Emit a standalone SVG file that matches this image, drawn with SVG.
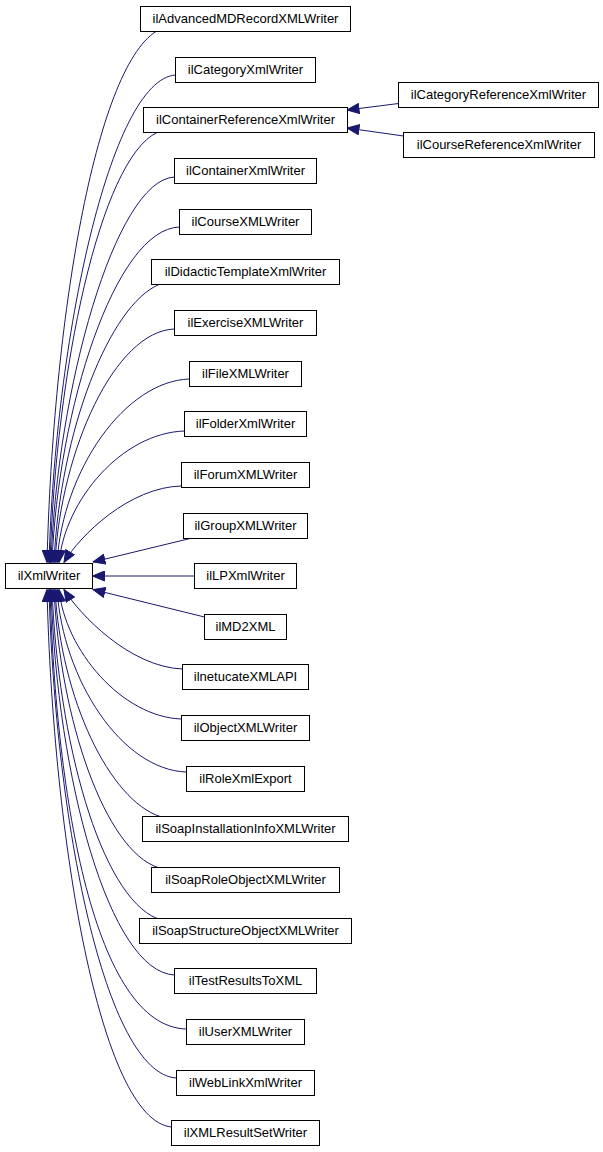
<svg xmlns="http://www.w3.org/2000/svg" width="603" height="1152" viewBox="0 0 603 1152">
<style>
.n rect{fill:#fff;stroke:#000;stroke-width:1}
.n text{font-family:"Liberation Sans",Arial,sans-serif;font-size:13px;fill:#000;text-anchor:middle}
.e path{fill:none;stroke:#191970;stroke-width:1;marker-start:url(#ah)}
</style>
<defs>
<marker id="ah" markerUnits="userSpaceOnUse" markerWidth="13" markerHeight="11" refX="12" refY="5" orient="auto-start-reverse" viewBox="-0.5 -0.5 13 11">
<path d="M0,0 L12,5 L0,10 z" fill="#191970" stroke="#191970" stroke-width="1"/>
</marker>
</defs>
<rect width="603" height="1152" fill="#fff"/>
<g id="edges" class="e">
<path d="M47,562.5 C53,320 95,70 156,31.5"/>
<path d="M49,562.5 C55,340 110,80 175.5,75"/>
<path d="M50,562.5 C56,370 100,160 157,132.5"/>
<path d="M51,562.5 C57,390 115,180 174.5,177"/>
<path d="M52,562.5 C58,410 115,229 179.5,227"/>
<path d="M54,562.5 C60,430 110,305 159,284.5"/>
<path d="M55,562.5 C61,450 115,331 174.5,329"/>
<path d="M57,562.5 C63,470 125,381 189.5,379"/>
<path d="M59,562.5 C65,500 122,433 184.5,431"/>
<path d="M64,562.5 C80,535 130,487 181.5,486"/>
<path d="M93,562 L190,538.5"/>
<path d="M92.5,576 L194.5,576"/>
<path d="M93,589.5 L204.5,617"/>
<path d="M64,589.5 C80,615 130,667 182.5,669"/>
<path d="M59,589.5 C65,650 122,717 181.5,719"/>
<path d="M57,589.5 C63,680 122,770 186.5,772"/>
<path d="M55,589.5 C61,700 110,800 160,816.5"/>
<path d="M54,589.5 C60,720 105,850 158,867.5"/>
<path d="M52,589.5 C58,740 100,895 157,918.5"/>
<path d="M51,589.5 C57,780 110,972 174.5,975"/>
<path d="M50,589.5 C56,800 95,1027 186.5,1029"/>
<path d="M49,589.5 C55,820 105,1074 176.5,1078"/>
<path d="M47,589.5 C53,840 100,1120 171.5,1127"/>
<path d="M347,110 L398.5,103.5"/>
<path d="M347,128 L403.5,136"/>
</g>
<g id="ilXmlWriter" class="n"><rect x="5.5" y="563.5" width="87" height="25"/><text x="49" y="580">ilXmlWriter</text></g>
<g id="ilAdvancedMDRecordXMLWriter" class="n"><rect x="140.5" y="6.5" width="210" height="25"/><text x="245.5" y="23">ilAdvancedMDRecordXMLWriter</text></g>
<g id="ilCategoryXmlWriter" class="n"><rect x="175.5" y="57.5" width="140" height="25"/><text x="245.5" y="74">ilCategoryXmlWriter</text></g>
<g id="ilContainerReferenceXmlWriter" class="n"><rect x="143.5" y="107.5" width="204" height="25"/><text x="245.5" y="124">ilContainerReferenceXmlWriter</text></g>
<g id="ilContainerXmlWriter" class="n"><rect x="174.5" y="158.5" width="142" height="25"/><text x="245.5" y="175">ilContainerXmlWriter</text></g>
<g id="ilCourseXMLWriter" class="n"><rect x="179.5" y="209.5" width="132" height="25"/><text x="245.5" y="226">ilCourseXMLWriter</text></g>
<g id="ilDidacticTemplateXmlWriter" class="n"><rect x="151.5" y="259.5" width="188" height="25"/><text x="245.5" y="276">ilDidacticTemplateXmlWriter</text></g>
<g id="ilExerciseXMLWriter" class="n"><rect x="174.5" y="310.5" width="142" height="25"/><text x="245.5" y="327">ilExerciseXMLWriter</text></g>
<g id="ilFileXMLWriter" class="n"><rect x="189.5" y="361.5" width="112" height="25"/><text x="245.5" y="378">ilFileXMLWriter</text></g>
<g id="ilFolderXmlWriter" class="n"><rect x="184.5" y="411.5" width="122" height="25"/><text x="245.5" y="428">ilFolderXmlWriter</text></g>
<g id="ilForumXMLWriter" class="n"><rect x="181.5" y="462.5" width="128" height="25"/><text x="245.5" y="479">ilForumXMLWriter</text></g>
<g id="ilGroupXMLWriter" class="n"><rect x="183.5" y="513.5" width="124" height="25"/><text x="245.5" y="530">ilGroupXMLWriter</text></g>
<g id="ilLPXmlWriter" class="n"><rect x="194.5" y="563.5" width="102" height="25"/><text x="245.5" y="580">ilLPXmlWriter</text></g>
<g id="ilMD2XML" class="n"><rect x="204.5" y="614.5" width="82" height="25"/><text x="245.5" y="631">ilMD2XML</text></g>
<g id="ilnetucateXMLAPI" class="n"><rect x="182.5" y="664.5" width="126" height="25"/><text x="245.5" y="681">ilnetucateXMLAPI</text></g>
<g id="ilObjectXMLWriter" class="n"><rect x="181.5" y="715.5" width="128" height="25"/><text x="245.5" y="732">ilObjectXMLWriter</text></g>
<g id="ilRoleXmlExport" class="n"><rect x="186.5" y="766.5" width="118" height="25"/><text x="245.5" y="783">ilRoleXmlExport</text></g>
<g id="ilSoapInstallationInfoXMLWriter" class="n"><rect x="142.5" y="816.5" width="206" height="25"/><text x="245.5" y="833">ilSoapInstallationInfoXMLWriter</text></g>
<g id="ilSoapRoleObjectXMLWriter" class="n"><rect x="151.5" y="867.5" width="188" height="25"/><text x="245.5" y="884">ilSoapRoleObjectXMLWriter</text></g>
<g id="ilSoapStructureObjectXMLWriter" class="n"><rect x="139.5" y="918.5" width="212" height="25"/><text x="245.5" y="935">ilSoapStructureObjectXMLWriter</text></g>
<g id="ilTestResultsToXML" class="n"><rect x="174.5" y="968.5" width="142" height="25"/><text x="245.5" y="985">ilTestResultsToXML</text></g>
<g id="ilUserXMLWriter" class="n"><rect x="186.5" y="1019.5" width="118" height="25"/><text x="245.5" y="1036">ilUserXMLWriter</text></g>
<g id="ilWebLinkXmlWriter" class="n"><rect x="176.5" y="1070.5" width="138" height="25"/><text x="245.5" y="1087">ilWebLinkXmlWriter</text></g>
<g id="ilXMLResultSetWriter" class="n"><rect x="171.5" y="1120.5" width="148" height="25"/><text x="245.5" y="1137">ilXMLResultSetWriter</text></g>
<g id="ilCategoryReferenceXmlWriter" class="n"><rect x="398.5" y="82.5" width="200" height="25"/><text x="498.5" y="99">ilCategoryReferenceXmlWriter</text></g>
<g id="ilCourseReferenceXmlWriter" class="n"><rect x="403.5" y="132.5" width="191" height="25"/><text x="499" y="149">ilCourseReferenceXmlWriter</text></g>
</svg>
